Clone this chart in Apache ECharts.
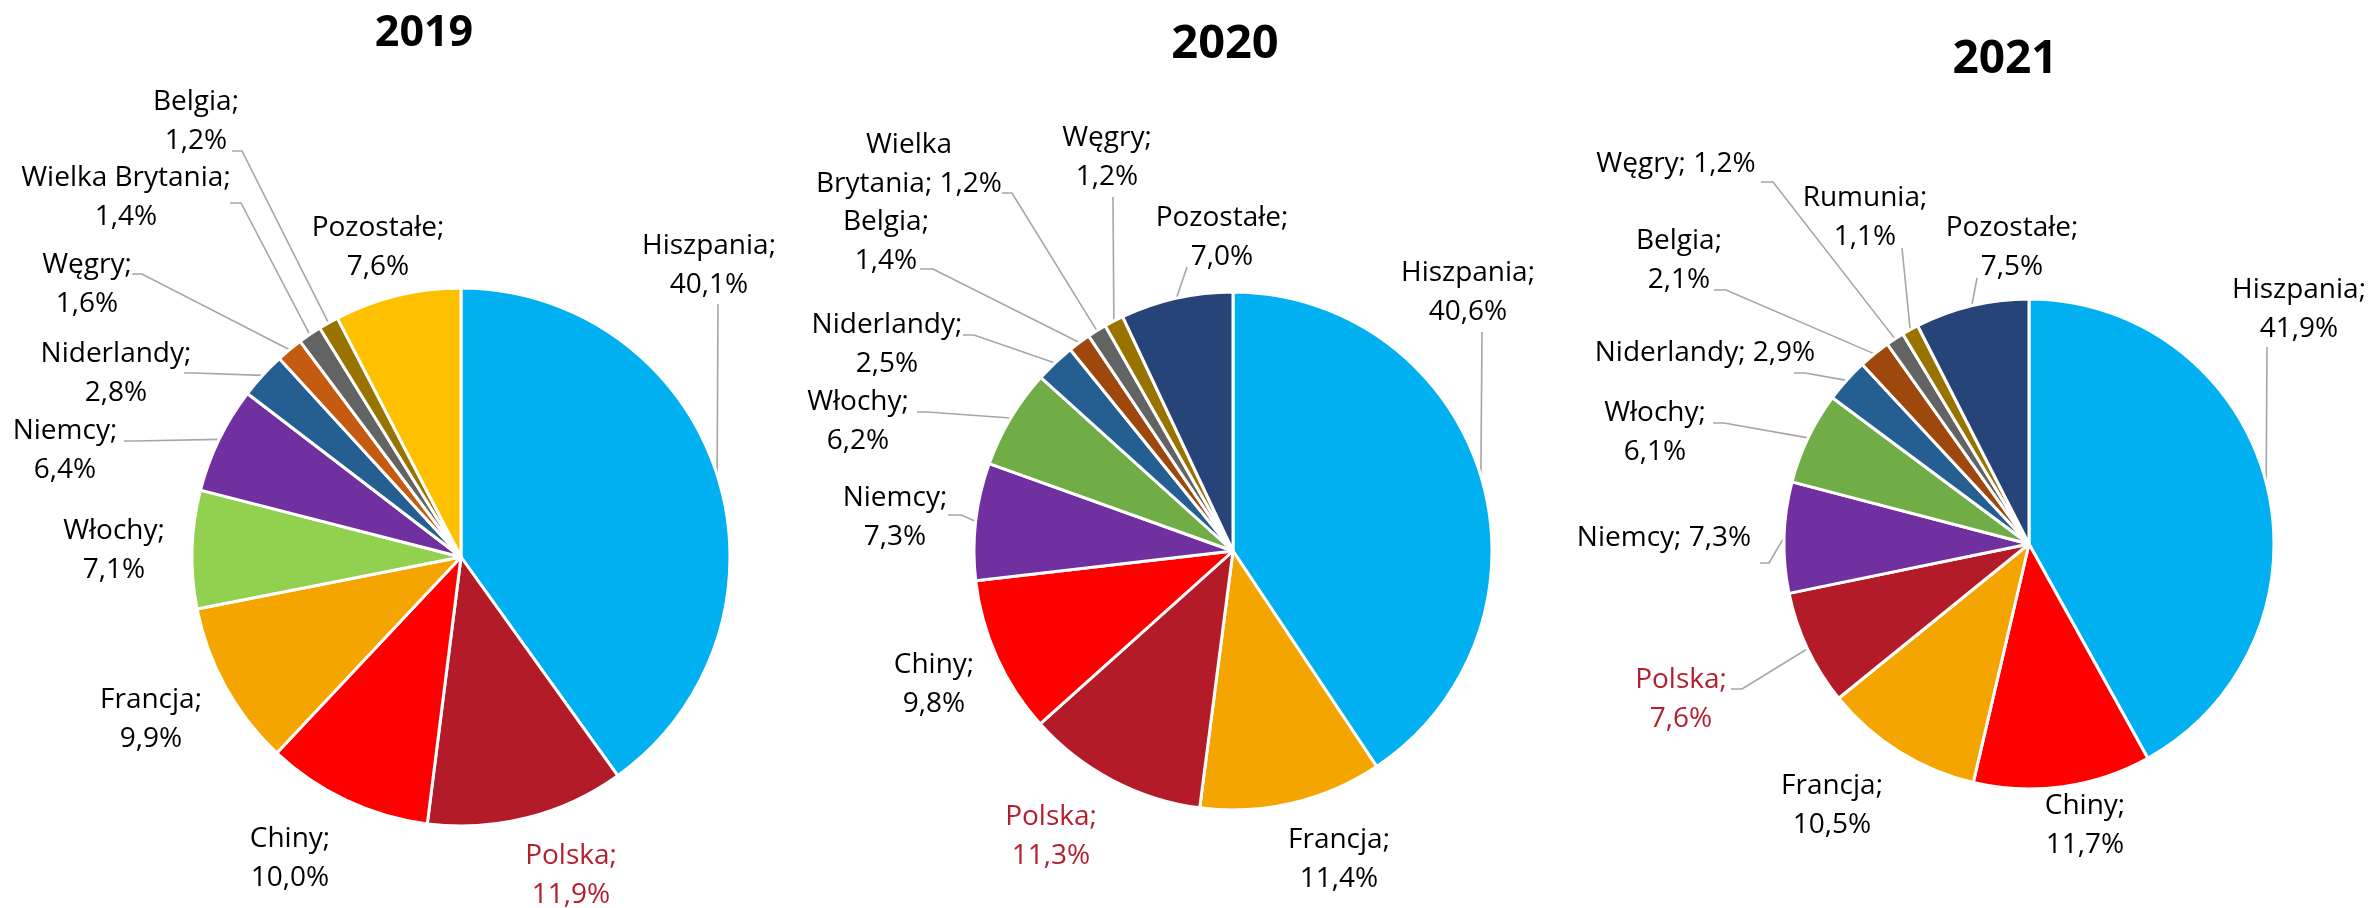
<!DOCTYPE html>
<html>
<head>
<meta charset="utf-8">
<script src="https://cdn.jsdelivr.net/npm/echarts@6/dist/echarts.min.js"></script>
<style>
html,body{margin:0;padding:0;background:#fff;}
#chart{width:2372px;height:908px;}
</style>
</head>
<body>
<div id="chart"></div>
<script>
// ---------- DATA ----------
const years = ['2019', '2020', '2021'];

const cats2019 = ['Hiszpania', 'Polska', 'Chiny', 'Francja', 'Włochy', 'Niemcy', 'Niderlandy', 'Węgry', 'Wielka Brytania', 'Belgia', 'Pozostałe'];
const vals2019 = [40.1, 11.9, 10.0, 9.9, 7.1, 6.4, 2.8, 1.6, 1.4, 1.2, 7.6];

const cats2020 = ['Hiszpania', 'Francja', 'Polska', 'Chiny', 'Niemcy', 'Włochy', 'Niderlandy', 'Belgia', 'Wielka Brytania', 'Węgry', 'Pozostałe'];
const vals2020 = [40.6, 11.4, 11.3, 9.8, 7.3, 6.2, 2.5, 1.4, 1.2, 1.2, 7.0];

const cats2021 = ['Hiszpania', 'Chiny', 'Francja', 'Polska', 'Niemcy', 'Włochy', 'Niderlandy', 'Belgia', 'Węgry', 'Rumunia', 'Pozostałe'];
const vals2021 = [41.9, 11.7, 10.5, 7.6, 7.3, 6.1, 2.9, 2.1, 1.2, 1.1, 7.5];

// ---------- STYLES ----------
const colors2019 = ['#00B0F0', '#B41B29', '#FF0000', '#F5A500', '#92D050', '#7030A0', '#255E91', '#C55A11', '#636363', '#997300', '#FFC000'];
const colors2020 = ['#00B0F0', '#F5A500', '#B41B29', '#FF0000', '#7030A0', '#70AD47', '#255E91', '#9E480E', '#636363', '#997300', '#264478'];
const colors2021 = ['#00B0F0', '#FF0000', '#F5A500', '#B41B29', '#7030A0', '#70AD47', '#255E91', '#9E480E', '#636363', '#997300', '#264478'];
const highlightCat = 'Polska';
const highlightColor = '#B41F2D';

// ---------- LAYOUT ----------
const pieCenters = [[461, 557], [1233, 551], [2029, 544]];
const pieRadii = [269, 259, 245];
const titlePos = [[419, 29], [1220, 40], [2000, 55]];
const titleSizes = [43, 47, 46];
// label layout: p = label centre relative to pie centre; e = [line end dx, dy rel. to label centre, elbow length]; w = wrap mode
const labels2019 = [
  {p: [248, -291], e: [9, 38, 0]},
  {p: [110, 319]},
  {p: [-171, 302]},
  {p: [-310, 163]},
  {p: [-347, -6]},
  {p: [-396, -106], e: [59, -10, 10]},
  {p: [-345, -183], e: [68, -1, 10]},
  {p: [-374, -272], e: [45, -11, 10]},
  {p: [-335, -359], e: [104, 5, 11]},
  {p: [-265, -435], e: [36, 29, 10]},
  {p: [-83, -309]}
];
const labels2020 = [
  {p: [235, -258], e: [14, 39, 0]},
  {p: [106, 309]},
  {p: [-182, 286]},
  {p: [-299, 134]},
  {p: [-338, -33], e: [53, -3, 13]},
  {p: [-375, -129], e: [59, -10, 10]},
  {p: [-346, -206], e: [76, -10, 11]},
  {p: [-347, -309], e: [34, 27, 13]},
  {p: [-324, -386], e: [93, 28, 10], w: 2},
  {p: [-126, -393], e: [6, 39, 0]},
  {p: [-11, -313], e: [-35, 29, 0]}
];
const labels2021 = [
  {p: [270, -234], e: [-32, 37, 0]},
  {p: [56, 282]},
  {p: [-197, 262]},
  {p: [-348, 156], e: [50, -11, 11]},
  {p: [-365, -6], e: [96, 25, 9], w: 1},
  {p: [-374, -111], e: [58, -10, 11]},
  {p: [-324, -191], e: [89, 20, 11], w: 1},
  {p: [-350, -283], e: [35, 29, 12]},
  {p: [-353, -380], e: [85, 18, 12], w: 1},
  {p: [-164, -326], e: [37, 30, 0]},
  {p: [-17, -296], e: [-35, 30, 0]}
];

const allCats = [cats2019, cats2020, cats2021];
const allVals = [vals2019, vals2020, vals2021];
const allColors = [colors2019, colors2020, colors2021];
const allLabels = [labels2019, labels2020, labels2021];

const FONT = '"Open Sans", "Noto Sans", sans-serif';

function fmt(v) { return v.toFixed(1).replace('.', ',') + '%'; }

function makeSeries(si) {
  const cats = allCats[si], vals = allVals[si], cols = allColors[si], labs = allLabels[si];
  const c = pieCenters[si];
  const data = cats.map((name, i) => {
    const L = labs[i];
    const item = {
      name: name,
      value: vals[i],
      itemStyle: {color: cols[i]},
      labelLine: {show: !!L.e}
    };
    if (name === highlightCat) item.label = {color: highlightColor};
    return item;
  });
  return {
    type: 'pie',
    center: c,
    radius: pieRadii[si],
    startAngle: 90,
    clockwise: true,
    avoidLabelOverlap: false,
    animation: false,
    data: data,
    itemStyle: {borderColor: '#FFFFFF', borderWidth: 3},
    label: {
      show: true,
      position: 'outside',
      fontFamily: FONT,
      fontSize: 28,
      lineHeight: 39,
      color: '#000000',
      align: 'center',
      formatter: function (p) {
        const w = labs[p.dataIndex].w || 0;
        const v = fmt(p.value);
        if (w === 1) return p.name + '; ' + v;
        if (w === 2) {
          const k = p.name.indexOf(' ');
          return p.name.slice(0, k) + '\n' + p.name.slice(k + 1) + '; ' + v;
        }
        return p.name + ';\n' + v;
      }
    },
    labelLine: {
      show: true,
      length: 10,
      length2: 10,
      lineStyle: {color: '#A6A6A6', width: 1.6}
    },
    emphasis: {disabled: true},
    labelLayout: function (p) {
      const L = labs[p.dataIndex];
      const x = c[0] + L.p[0], y = c[1] + L.p[1];
      const res = {x: x, y: y, align: 'center', verticalAlign: 'middle'};
      if (L.e && p.labelLinePoints) {
        const a = p.labelLinePoints[0];
        const end = [x + L.e[0], y + L.e[1]];
        const elbow = [end[0] + L.e[2], end[1]];
        res.labelLinePoints = [[a[0], a[1]], elbow, end];
      }
      return res;
    }
  };
}

const chart = echarts.init(document.getElementById('chart'), null, {renderer: 'canvas'});
chart.setOption({
  backgroundColor: '#FFFFFF',
  animation: false,
  title: years.map((y, i) => ({
    text: y,
    left: titlePos[i][0],
    top: titlePos[i][1],
    textAlign: 'center',
    textVerticalAlign: 'middle',
    textStyle: {fontFamily: FONT, fontSize: titleSizes[i], fontWeight: 'bold', color: '#000000'}
  })),
  series: [0, 1, 2].map(makeSeries)
});
</script>
</body>
</html>
